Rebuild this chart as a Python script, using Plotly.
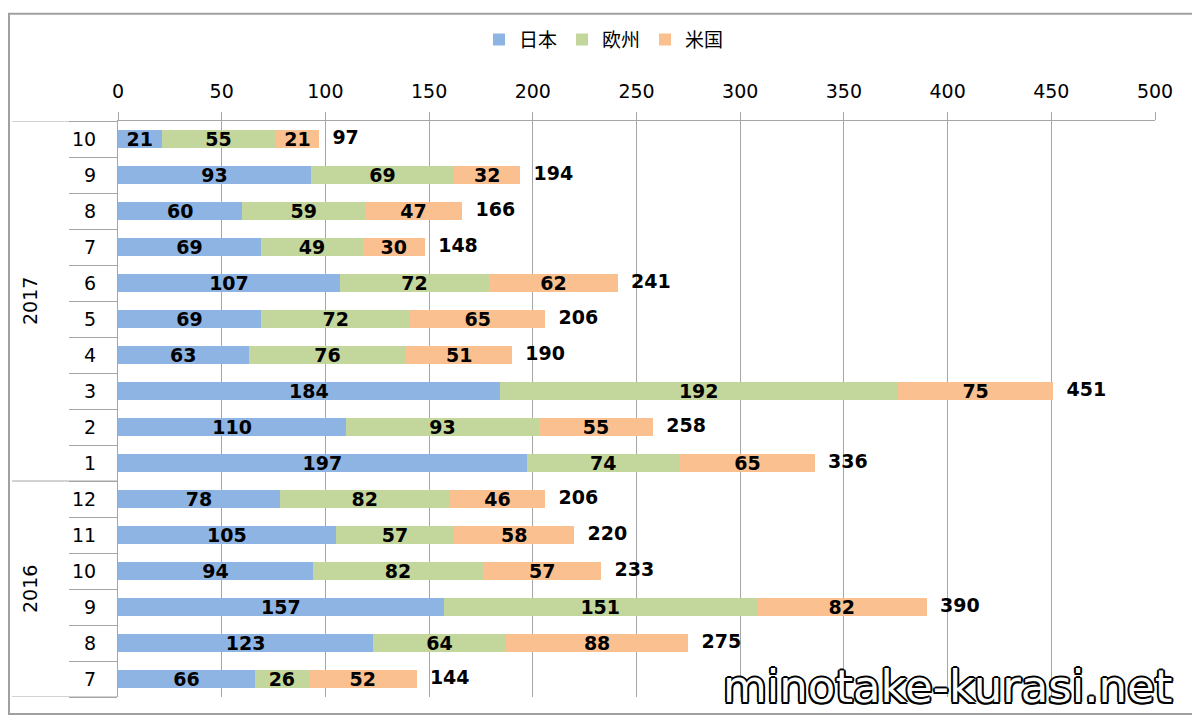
import plotly.graph_objects as go

years = ["2016"] * 6 + ["2017"] * 10
months = ["7", "8", "9", "10", "11", "12", "1", "2", "3", "4", "5", "6", "7", "8", "9", "10"]
japan = [66, 123, 157, 94, 105, 78, 197, 110, 184, 63, 69, 107, 69, 60, 93, 21]
europe = [26, 64, 151, 82, 57, 82, 74, 93, 192, 76, 72, 72, 49, 59, 69, 55]
usa = [52, 88, 82, 57, 58, 46, 65, 55, 75, 51, 65, 62, 30, 47, 32, 21]
totals = [144, 275, 390, 233, 220, 206, 336, 258, 451, 190, 206, 241, 148, 166, 194, 97]
series_names = ["日本", "欧州", "米国"]
colors = ["#8eb4e3", "#c3d69b", "#fac090"]
year_groups = ["2016", "2017"]

cats = [f"{yy}-{mm}" for yy, mm in zip(years, months)]

fig = go.Figure()
for name, vals, col in zip(series_names, [japan, europe, usa], colors):
    fig.add_trace(go.Bar(
        x=vals, y=cats, orientation="h", name=name, marker=dict(color=col, line=dict(width=0)),
        text=vals, textposition="inside", insidetextanchor="middle", constraintext="none",
        textangle=0,
        textfont=dict(family="DejaVu Sans", size=19, color="black", weight="bold"),
        hoverinfo="skip",
    ))
fig.add_trace(go.Scatter(
    x=totals, y=cats, mode="text", text=[f"  {t}" for t in totals], textposition="middle right",
    textfont=dict(family="DejaVu Sans", size=19, color="black", weight="bold"),
    showlegend=False, hoverinfo="skip", cliponaxis=False,
))

# the page body has an 8px default margin: size the figure to fit inside the window
OFF = 8
W, H = 1200 - OFF, 722 - OFF
L, R, T, B = 118 - OFF, 45, 117 - OFF, 25
pw, ph = W - L - R, H - T - B
def px(x):
    return (x - OFF - L) / pw
def py(yy):
    return (H - B - (yy - OFF)) / ph

GRID = "#a6a6a6"
fig.update_layout(
    width=W, height=H,
    margin=dict(l=L, r=R, t=T, b=B),
    barmode="stack", bargap=0.48,
    plot_bgcolor="white", paper_bgcolor="white",
    font=dict(family="DejaVu Sans", size=19, color="#000"),
    legend=dict(orientation="h", x=px(604), xanchor="center", y=py(35), yanchor="middle",
                font=dict(family="Noto Sans CJK JP", size=19), traceorder="normal"),
    xaxis=dict(side="top", range=[0, 500], dtick=50, showgrid=True, gridcolor=GRID, gridwidth=1,
               ticks="outside", ticklen=8, tickcolor=GRID, showline=True, linecolor=GRID,
               linewidth=1, zeroline=False, tickfont=dict(size=19), automargin=False,
               ticklabelstandoff=6),
    yaxis=dict(type="category", categoryorder="array", categoryarray=cats,
               tickvals=cats, ticktext=months, range=[-0.5, len(cats) - 0.5],
               showgrid=False, showline=True, linecolor=GRID, linewidth=1,
               ticks="outside", tickson="boundaries", ticklen=48, tickcolor=GRID,
               tickfont=dict(size=19), automargin=False, ticklabelstandoff=17),
)

# frame around whole chart
fig.add_shape(type="rect", xref="paper", yref="paper", x0=px(9), x1=px(1193), y0=py(714), y1=py(9),
              line=dict(color="#a0a0a0", width=2), layer="below")
# category axis group lines
for yv in [-0.5, 5.5, len(cats) - 0.5]:
    fig.add_shape(type="line", xref="paper", yref="y", x0=px(12), x1=0, y0=yv, y1=yv,
                  line=dict(color=GRID, width=1))
# year labels
for yr in year_groups:
    idx = [i for i, v in enumerate(years) if v == yr]
    fig.add_annotation(text=yr, xref="paper", yref="y", x=px(30), y=(idx[0] + idx[-1]) / 2,
                       xanchor="center", yanchor="middle",
                       showarrow=False, textangle=-90, font=dict(family="DejaVu Sans", size=19))

fig.add_annotation(text="minotake-kurasi.net", xref="paper", yref="paper", x=px(947), y=py(686),
                   xanchor="center", yanchor="middle",
                   showarrow=False, font=dict(family="DejaVu Sans", size=45, color="white",
                   shadow="2px 0 0 #000, -2px 0 0 #000, 0 2px 0 #000, 0 -2px 0 #000, 1.5px 1.5px 0 #000, -1.5px -1.5px 0 #000, 1.5px -1.5px 0 #000, -1.5px 1.5px 0 #000"))

fig.write_html("out.html")
